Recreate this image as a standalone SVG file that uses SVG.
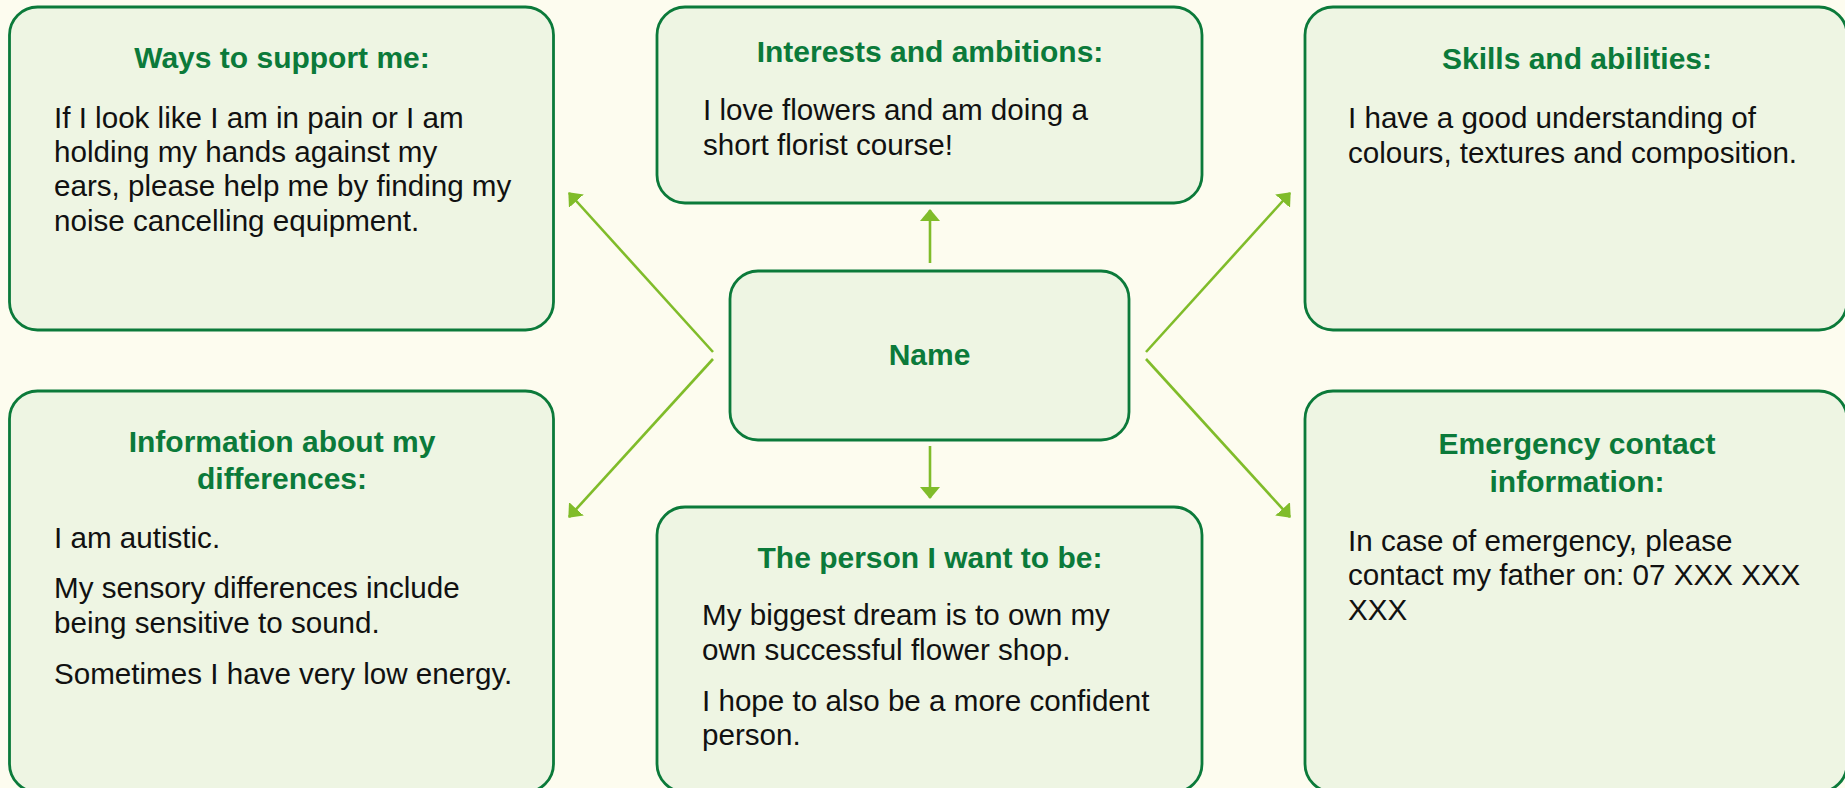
<svg xmlns="http://www.w3.org/2000/svg" width="1845" height="788" viewBox="0 0 1845 788">
<defs>
<style>
.box{fill:#EEF5E3;stroke:#0B7A3A;stroke-width:2.8}
.title{font-family:"Liberation Sans",Arial,sans-serif;font-weight:bold;font-size:30px;fill:#0B7A3A;text-anchor:middle}
.body{font-family:"Liberation Sans",Arial,sans-serif;font-size:29.6px;fill:#111111}
.conn{stroke:#80BC2A;stroke-width:2.6;fill:none;marker-end:url(#ah)}
</style>
<marker id="ah" viewBox="0 0 12 20" refX="11" refY="10" markerWidth="12" markerHeight="20" markerUnits="userSpaceOnUse" orient="auto">
<path d="M0,0 L12,10 L0,20 z" fill="#80BC2A"/>
</marker>
</defs>
<rect x="0" y="0" width="1845" height="788" fill="#FDFCEF"/>

<g id="connectors">
<line class="conn" x1="930" y1="263" x2="930" y2="210"/>
<line class="conn" x1="930" y1="446" x2="930" y2="498"/>
<line class="conn" x1="713" y1="352" x2="569" y2="193"/>
<line class="conn" x1="713" y1="359" x2="569" y2="517"/>
<line class="conn" x1="1146" y1="352" x2="1290" y2="193"/>
<line class="conn" x1="1146" y1="359" x2="1290" y2="517"/>
</g>

<g id="ways">
<rect class="box" x="9.5" y="7" width="544" height="323" rx="28"/>
<text class="title" x="282" y="68">Ways to support me:</text>
<text class="body" x="54" y="128">If I look like I am in pain or I am</text>
<text class="body" x="54" y="162">holding my hands against my</text>
<text class="body" x="54" y="196">ears, please help me by finding my</text>
<text class="body" x="54" y="231">noise cancelling equipment.</text>
</g>

<g id="interests">
<rect class="box" x="657" y="7" width="545" height="196" rx="28"/>
<text class="title" x="930" y="62">Interests and ambitions:</text>
<text class="body" x="703" y="120">I love flowers and am doing a</text>
<text class="body" x="703" y="155">short florist course!</text>
</g>

<g id="skills">
<rect class="box" x="1305" y="7" width="542" height="323" rx="28"/>
<text class="title" x="1577" y="69">Skills and abilities:</text>
<text class="body" x="1348" y="128">I have a good understanding of</text>
<text class="body" x="1348" y="163">colours, textures and composition.</text>
</g>

<g id="name">
<rect class="box" x="730" y="271" width="399" height="169" rx="28"/>
<text class="title" x="929.5" y="365">Name</text>
</g>

<g id="info">
<rect class="box" x="9.5" y="391" width="544" height="401" rx="28"/>
<text class="title" x="282" y="452">Information about my</text>
<text class="title" x="282" y="489">differences:</text>
<text class="body" x="54" y="548">I am autistic.</text>
<text class="body" x="54" y="598">My sensory differences include</text>
<text class="body" x="54" y="633">being sensitive to sound.</text>
<text class="body" x="54" y="684">Sometimes I have very low energy.</text>
</g>

<g id="person">
<rect class="box" x="657" y="507" width="545" height="285" rx="28"/>
<text class="title" x="930" y="568">The person I want to be:</text>
<text class="body" x="702" y="625">My biggest dream is to own my</text>
<text class="body" x="702" y="660">own successful flower shop.</text>
<text class="body" x="702" y="711">I hope to also be a more confident</text>
<text class="body" x="702" y="745">person.</text>
</g>

<g id="emergency">
<rect class="box" x="1305" y="391" width="542" height="401" rx="28"/>
<text class="title" x="1577" y="454">Emergency contact</text>
<text class="title" x="1577" y="492">information:</text>
<text class="body" x="1348" y="551">In case of emergency, please</text>
<text class="body" x="1348" y="585">contact my father on: 07 XXX XXX</text>
<text class="body" x="1348" y="620">XXX</text>
</g>
</svg>
